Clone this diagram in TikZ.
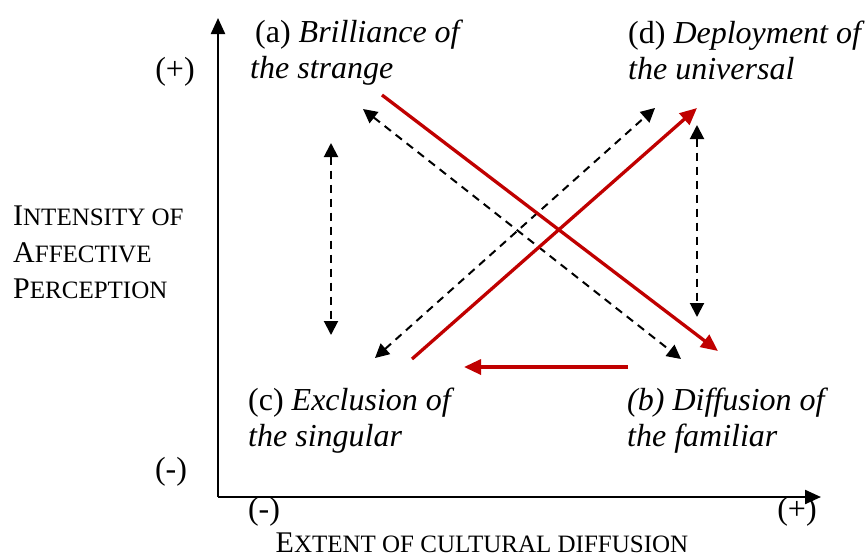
\documentclass[tikz,border=0pt]{standalone}
\usepackage{fontspec}
\setmainfont{Liberation Serif}
\usetikzlibrary{arrows.meta}
\definecolor{arrred}{RGB}{192,0,0}
\newcommand{\bigtxt}{\fontsize{32}{36}\selectfont}
\newcommand{\scA}[1]{{\fontsize{30}{30}\selectfont #1}}
\newcommand{\scB}[1]{{\fontsize{25}{25}\selectfont #1}}
\begin{document}
\begin{tikzpicture}[x=1pt,y=-1pt,
  lbl/.style={inner sep=0pt,anchor=base west,font=\bigtxt},
  sgn/.style={inner sep=0pt,anchor=center,font=\bigtxt},
  axis/.style={line width=2.3pt,-{Triangle[length=16pt,width=14pt]}},
  dashdbl/.style={line width=2pt,dash pattern=on 8pt off 6pt,{Triangle[length=14pt,width=14pt]}-{Triangle[length=14pt,width=14pt]}},
  redarr/.style={line width=3.3pt,arrred,-{Triangle[length=17pt,width=15pt]}}]
\useasboundingbox (0,0) rectangle (865,558);
% axes
\coordinate (O) at (218,497);
\coordinate (Ytip) at (218,18);
\coordinate (Xtip) at (821,497);
\draw[axis] (O) -- (Ytip);
\draw[axis] (O) -- (Xtip);
% axis signs
\node[sgn] (yplus) at (175,72) {(+)};
\node[sgn] (yminus) at (171,472) {(-)};
\node[sgn] (xminus) at (264,512) {(-)};
\node[sgn] (xplus) at (797,512) {(+)};
% axis titles
\node[inner sep=0pt,anchor=base west] (yt1) at (13,225) {\scA{I}\scB{NTENSITY OF}};
\node[inner sep=0pt,anchor=base west] (yt2) at (13,262) {\scA{A}\scB{FFECTIVE}};
\node[inner sep=0pt,anchor=base west] (yt3) at (13,298) {\scA{P}\scB{ERCEPTION}};
\node[inner sep=0pt,anchor=base] (xt) at (482,552) {\scA{E}\scB{XTENT OF CULTURAL DIFFUSION}};
% corner labels
\node[lbl] (a1) at (255,42) {(a) \textit{Brilliance of}};
\node[lbl] (a2) at (250,78) {\textit{the strange}};
\node[lbl] (d1) at (628,43) {(d) \textit{Deployment of}};
\node[lbl] (d2) at (628,79) {\textit{the universal}};
\node[lbl] (c1) at (248,410) {(c) \textit{Exclusion of}};
\node[lbl] (c2) at (248,446) {\textit{the singular}};
\node[lbl] (b1) at (627,410) {\textit{(b) Diffusion of}};
\node[lbl] (b2) at (627,446) {\textit{the familiar}};
% arrow end points
\coordinate (ab1) at (363,109);
\coordinate (ab2) at (681,359);
\coordinate (cd1) at (375,358);
\coordinate (cd2) at (655,108);
\coordinate (vl1) at (331,143);
\coordinate (vl2) at (331,335);
\coordinate (vr1) at (697,125);
\coordinate (vr2) at (697,317);
\coordinate (r1s) at (382,95);
\coordinate (r1e) at (718,351);
\coordinate (r2s) at (412,359);
\coordinate (r2e) at (697,108);
\coordinate (r3s) at (628,367);
\coordinate (r3e) at (464,367);
% dashed double arrows
\draw[dashdbl] (ab1) -- (ab2);
\draw[dashdbl] (cd1) -- (cd2);
\draw[dashdbl] (vl1) -- (vl2);
\draw[dashdbl] (vr1) -- (vr2);
% red arrows
\draw[redarr] (r1s) -- (r1e);
\draw[redarr] (r2s) -- (r2e);
\draw[redarr] (r3s) -- (r3e);
\end{tikzpicture}
\end{document}
